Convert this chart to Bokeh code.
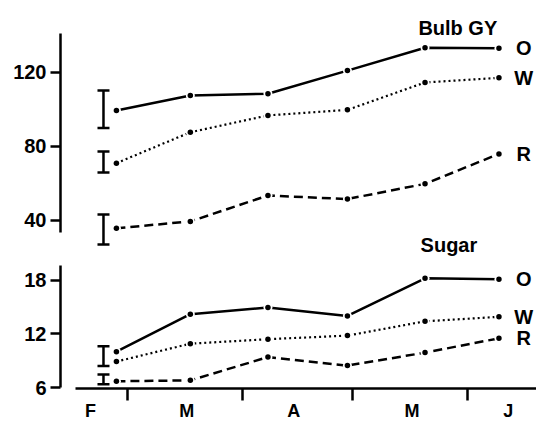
from bokeh.plotting import figure
from bokeh.layouts import column
from bokeh.models import Range1d, FixedTicker, Whisker, TeeHead, ColumnDataSource, Label
from bokeh.core.properties import value
from bokeh.embed import file_html
from bokeh.resources import INLINE

# sampling dates (day of year)
dates = [57, 77, 98, 119.5, 140.5, 160.5]

# Bulb GY
gy_O = [99.5, 107.6, 108.5, 121.0, 133.4, 133.1]
gy_W = [71.0, 87.7, 96.8, 99.8, 114.6, 117.1]
gy_R = [35.8, 39.5, 53.5, 51.6, 59.8, 76.0]
gy_err_lower = [90.0, 66.0, 27.0]
gy_err_upper = [110.3, 77.3, 43.2]

# Sugar
su_O = [10.0, 14.2, 14.95, 14.0, 18.2, 18.1]
su_W = [8.9, 10.9, 11.4, 11.8, 13.4, 13.9]
su_R = [6.7, 6.8, 9.4, 8.45, 9.9, 11.5]
su_err_lower = [8.4, 6.36]
su_err_upper = [10.6, 7.46]

err_x = 53.5
series_labels = ["O", "W", "R"]
label_x = 167.2

month_labels = ["F", "M", "A", "M", "J"]
month_label_pos = [50, 76, 105, 137, 163]
month_bounds = [60, 91, 121, 152]

gy_ticks = [40, 80, 120]
su_ticks = [6, 12, 18]

FONT = "Liberation Sans"

xr = Range1d(41.87, 170.66)


def style_common(p):
    p.grid.visible = False
    p.outline_line_color = None
    p.background_fill_color = "white"
    p.border_fill_color = "white"


def style_yaxis(ax, ticks, bounds):
    ax.ticker = FixedTicker(ticks=ticks)
    ax.bounds = bounds
    ax.axis_line_width = 2.5
    ax.axis_line_color = "black"
    ax.major_tick_line_width = 2.5
    ax.major_tick_line_color = "black"
    ax.major_tick_out = 10
    ax.major_tick_in = 0
    ax.minor_tick_line_color = None
    ax.major_label_standoff = 4
    ax.major_label_text_font = FONT
    ax.major_label_text_font_style = "bold"
    ax.major_label_text_font_size = "20px"
    ax.major_label_text_color = "black"


def draw_series(p, O, W, R):
    p.line(dates, O, line_width=2.5, color="black")
    p.line(dates, W, line_width=2.2, color="black", line_dash="2 3")
    p.line(dates, R, line_width=2.5, color="black", line_dash="9 5")
    for s in (O, W, R):
        p.scatter(dates, s, size=9, fill_color="white", line_color=None)
        p.scatter(dates, s, size=5.5, fill_color="black", line_color=None)
    p.text(x=[label_x] * 3, y=[O[-1], W[-1], R[-1]], text=series_labels,
           text_font=value(FONT), text_font_style="bold", text_font_size="20px",
           text_align="center", text_baseline="middle", text_color="black")


def draw_err(p, lower, upper):
    src = ColumnDataSource(dict(x=[err_x] * len(lower), lower=lower, upper=upper))
    w = Whisker(source=src, base="x", lower="lower", upper="upper", dimension="height",
                line_width=2.5, line_color="black",
                upper_head=TeeHead(size=12, line_width=2.5, line_color="black"),
                lower_head=TeeHead(size=12, line_width=2.5, line_color="black"))
    p.add_layout(w)


# ---- top panel: Bulb GY ----
p1 = figure(width=536, height=258, x_range=xr, y_range=Range1d(19.46, 158.9),
            x_axis_location=None, output_backend="svg", toolbar_location=None,
            min_border_left=60, min_border_right=0, min_border_top=0, min_border_bottom=0)
style_common(p1)
style_yaxis(p1.yaxis[0], gy_ticks, (33.5, 141.1))
draw_series(p1, gy_O, gy_W, gy_R)
draw_err(p1, gy_err_lower, gy_err_upper)
p1.add_layout(Label(x=138.7, y=143.8, text="Bulb GY", text_font=FONT, text_font_style="bold",
                    text_font_size="20px", text_color="black",
                    text_baseline="alphabetic", text_align="left"))
p1.add_layout(Label(x=139.3, y=27.0, text="Sugar", text_font=FONT, text_font_style="bold",
                    text_font_size="20px", text_color="black",
                    text_baseline="alphabetic", text_align="left"))

# ---- bottom panel: Sugar ----
p2 = figure(width=536, height=165, x_range=xr, y_range=Range1d(5.89, 20.42),
            output_backend="svg", toolbar_location=None,
            min_border_left=60, min_border_right=0, min_border_top=0, min_border_bottom=33)
style_common(p2)
style_yaxis(p2.yaxis[0], su_ticks, (6, 19.65))
xa = p2.xaxis[0]
xa.ticker = FixedTicker(ticks=month_label_pos, minor_ticks=month_bounds)
xa.major_label_overrides = {k: v for k, v in zip(month_label_pos, month_labels)}
xa.bounds = (45.9, 170.66)
xa.axis_line_width = 2.5
xa.axis_line_color = "black"
xa.major_tick_line_color = None
xa.major_tick_out = 0
xa.major_tick_in = 0
xa.minor_tick_line_color = "black"
xa.minor_tick_line_width = 2.5
xa.minor_tick_out = 12
xa.minor_tick_in = 0
xa.major_label_standoff = 0
xa.major_label_text_font = FONT
xa.major_label_text_font_style = "bold"
xa.major_label_text_font_size = "18px"
xa.major_label_text_color = "black"
draw_series(p2, su_O, su_W, su_R)
draw_err(p2, su_err_lower, su_err_upper)

layout = column(p1, p2, spacing=0)
open("out.html", "w").write(file_html(layout, INLINE))
